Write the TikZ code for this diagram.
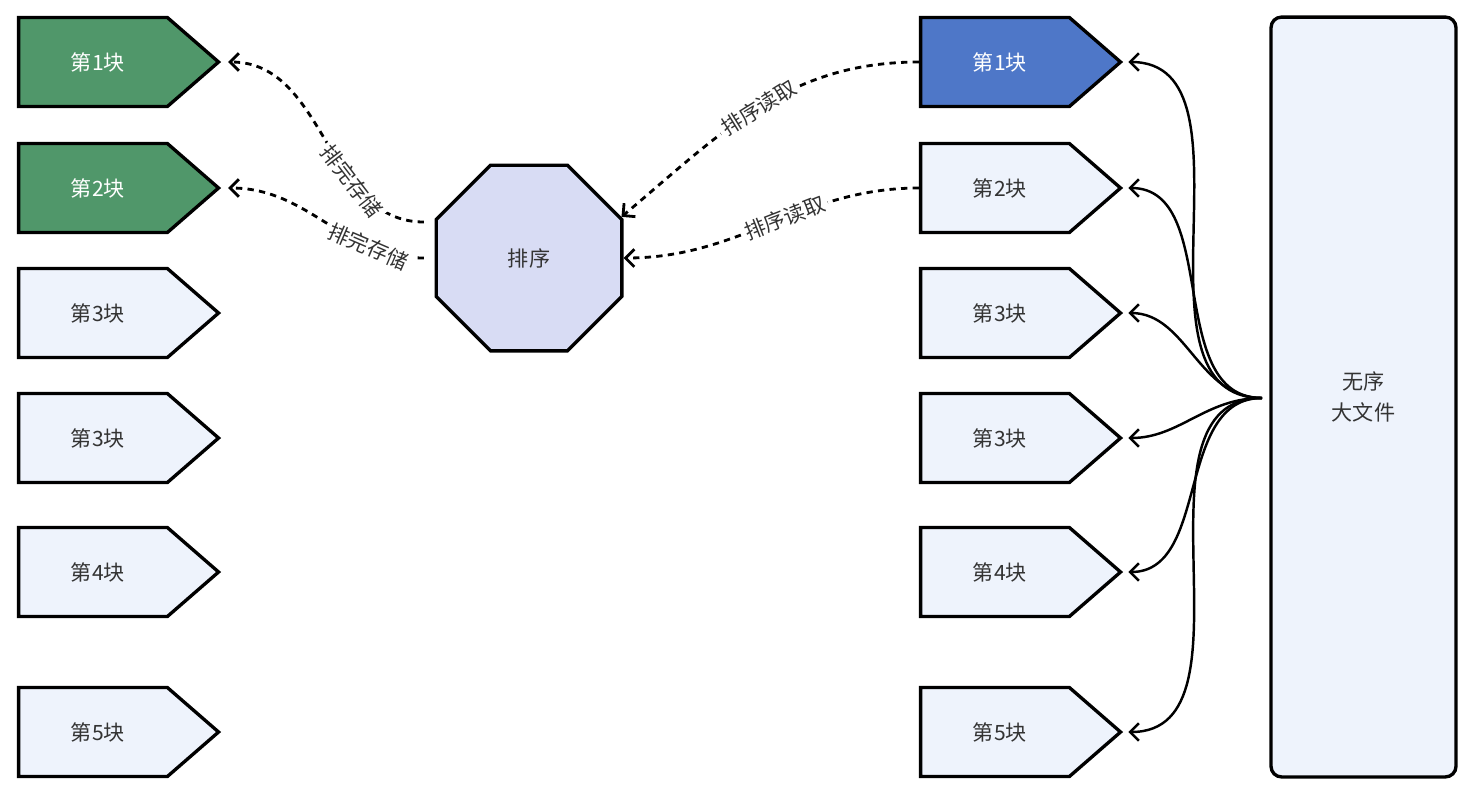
\documentclass[tikz,border=0pt]{standalone}
\usepackage{fontspec}
\setmainfont{Noto Sans CJK SC}
\usetikzlibrary{shapes.symbols,shapes.geometric,arrows.meta}

\definecolor{blkfill}{HTML}{EEF3FC}
\definecolor{donefill}{HTML}{50976A}
\definecolor{readfill}{HTML}{4E77C8}
\definecolor{sortfill}{HTML}{D8DCF4}
\definecolor{txtgray}{HTML}{333333}

\begin{document}
\begin{tikzpicture}[x=0.02cm,y=-0.02cm,
  blk/.style={draw=black,line width=1.9pt,fill=blkfill,text=txtgray,
    signal,signal to=east,signal pointer angle=82,
    minimum width=4.0cm,minimum height=1.78cm,inner sep=0pt,
    execute at begin node={\hspace*{5.6pt}},
    font=\fontsize{12}{14}\selectfont},
  done/.style={blk,fill=donefill,text=white},
  reading/.style={blk,fill=readfill,text=white},
  lbl/.style={fill=white,sloped,inner sep=2pt,text=txtgray,
    font=\fontsize{12}{14}\selectfont},
  dashlink/.style={line width=1.6pt,dash pattern=on 3.6pt off 3pt,
    -{Straight Barb[length=5pt,width=10pt]}},
  feed/.style={line width=1.4pt,-{Straight Barb[length=5pt,width=10pt]},shorten >=3pt}]
  \useasboundingbox (0,0) rectangle (1475,796);

  % sorted blocks
  \node[done] (l1) at (93,62) {第1块};
  \node[done] (l2) at (93,188) {第2块};
  \node[blk] (l3) at (93,313) {第3块};
  \node[blk] (l4) at (93,438) {第3块};
  \node[blk] (l5) at (93,572) {第4块};
  \node[blk] (l6) at (93,732) {第5块};

  % blocks read from the file
  \node[reading] (r1) at (995,62) {第1块};
  \node[blk] (r2) at (995,188) {第2块};
  \node[blk] (r3) at (995,313) {第3块};
  \node[blk] (r4) at (995,438) {第3块};
  \node[blk] (r5) at (995,572) {第4块};
  \node[blk] (r6) at (995,732) {第5块};

  \node[draw=black,line width=1.9pt,fill=sortfill,text=txtgray,
    regular polygon,regular polygon sides=8,minimum size=4.02cm,
    font=\fontsize{12}{14}\selectfont] (s) at (529,258) {排序};

  \node[draw=black,line width=1.9pt,fill=blkfill,text=txtgray,rounded corners=6pt,
    minimum width=3.7cm,minimum height=15.2cm,align=center,
    font=\fontsize{12}{18}\selectfont] (f) at (1363.5,397) {无序\\大文件};
  \coordinate (hub) at (1262,398);

  \draw[dashlink] (r1.west) to[out=180,in=40] node[lbl,pos=0.5] {排序读取} (s.24);
  \draw[dashlink] (r2.west) to[out=180,in=0] node[lbl,pos=0.45] {排序读取} (s.east);
  \draw[dashlink] ([xshift=-6pt]s.west |- 0,222) to[out=180,in=0] node[lbl,pos=0.33] {排完存储} ([xshift=4pt]l1.east);
  \draw[dashlink] ([xshift=-6pt]s.west) to[out=180,in=0] node[lbl,pos=0.26] {排完存储} ([xshift=4pt]l2.east);

  \foreach \b in {r1,r2,r3,r4,r5,r6}
    \draw[feed] (hub) to[out=180,in=0] (\b.east);
\end{tikzpicture}
\end{document}
